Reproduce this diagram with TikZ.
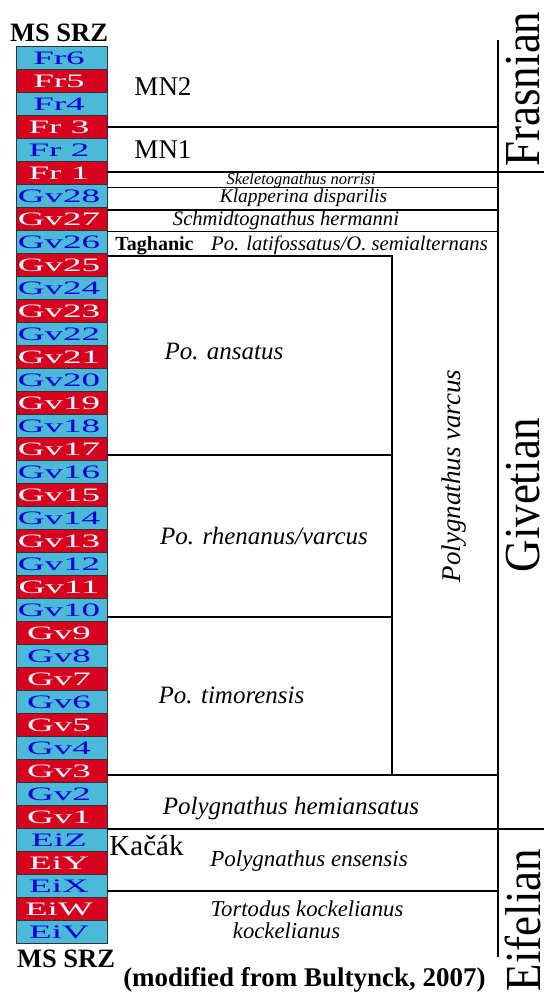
\documentclass[tikz,border=0pt]{standalone}
\usepackage{fontspec}
\setmainfont{Liberation Serif}
\newfontfamily\widefont[FakeStretch=1.95]{Liberation Serif}
\definecolor{cy}{RGB}{75,185,215}
\definecolor{rd}{RGB}{215,0,30}
\definecolor{bl}{RGB}{0,0,220}
\newcommand{\fsz}[1]{\fontsize{#1}{#1}\selectfont}
\begin{document}
\begin{tikzpicture}[x=1pt,y=-1pt,
  box/.style={draw=black!80,line width=0.8pt,minimum width=91pt,minimum height=23pt,inner sep=0pt,font=\fsz{19}},
  rule/.style={line width=1.3pt},
  lab/.style={anchor=base,inner sep=0pt},
  sp/.style={lab,font=\itshape\fsz{#1}},
  stage/.style={anchor=base,inner sep=0pt,rotate=90,font=\fsz{45}}]
\useasboundingbox (0,0) rectangle (544,999);
\fill[white] (0,0) rectangle (544,999);
% zone column
\foreach \lab [count=\i from 0] in {Fr6,Fr5,Fr4,{Fr 3},{Fr 2},{Fr 1},Gv28,Gv27,Gv26,Gv25,Gv24,Gv23,Gv22,Gv21,Gv20,Gv19,Gv18,Gv17,Gv16,Gv15,Gv14,Gv13,Gv12,Gv11,Gv10,Gv9,Gv8,Gv7,Gv6,Gv5,Gv4,Gv3,Gv2,Gv1,EiZ,EiY,EiX,EiW,EiV}{
  \ifodd\i \def\fc{rd}\def\tc{white}\else\def\fc{cy}\def\tc{bl}\fi
  \node[box,fill=\fc,text=\tc] (b\i) at (61.5,{58.2+23*\i}) {\widefont\lab\kern5pt};
}
% titles
\node[lab,font=\bfseries\fsz{26.5}] (t1) at (59,41.7) {MS SRZ};
\node[lab,font=\bfseries\fsz{26.5}] (t2) at (66,967) {MS SRZ};
\node[lab,font=\bfseries\fsz{27}] (src) at (304.5,986) {(modified from Bultynck, 2007)};
% horizontal rules
\draw[rule] (107,127) -- (498,127);
\draw[line width=2pt] (107,172) -- (544,172);
\draw[rule] (107,187.5) -- (498,187.5);
\draw[rule] (107,210) -- (498,210);
\draw[rule] (107,231.5) -- (498,231.5);
\draw[rule] (107,256) -- (392,256) -- (392,775);
\draw[rule] (107,455) -- (392,455);
\draw[rule] (107,617) -- (392,617);
\draw[rule] (107,775) -- (498,775);
\draw[rule] (107,829) -- (544,829);
\draw[rule] (107,891) -- (498,891);
\draw[line width=1.5pt] (498,40) -- (498,957);
% zone labels
\node[lab,font=\fsz{27}] (mn2) at (163,95) {MN2};
\node[lab,font=\fsz{27}] (mn1) at (163,158) {MN1};
\node[sp=16.5] (sk) at (301,184) {Skeletognathus norrisi};
\node[sp=19.5] (kl) at (303.5,202.7) {Klapperina disparilis};
\node[sp=20.6] (sc) at (286,225) {Schmidtognathus hermanni};
\node[lab,font=\bfseries\fsz{20}] (tag) at (154.5,250.7) {Taghanic};
\node[sp=20.7] (lat) at (349.5,250.7) {Po. latifossatus/O. semialternans};
\node[sp=25] (ans) at (224,359.3) {Po. ansatus};
\node[sp=25] (rhe) at (264,544) {Po. rhenanus/varcus};
\node[sp=25] (tim) at (231.5,703.3) {Po. timorensis};
\node[sp=27,rotate=90] (var) at (460,476) {Polygnathus varcus};
\node[sp=25] (hem) at (291,814) {Polygnathus hemiansatus};
\node[lab,font=\fsz{29}] (kac) at (146.5,855) {Kačák};
\node[sp=23] (ens) at (309,866) {Polygnathus ensensis};
\node[sp=22.7] (tor) at (307,916) {Tortodus kockelianus};
\node[sp=22.7] (kock) at (286.5,938.3) {kockelianus};
% stages
\node[stage] (fr) at (539,89) {\scalebox{1}[1.12]{Frasnian}};
\node[stage] (gv) at (539,495) {\scalebox{1}[1.12]{Givetian}};
\node[stage] (ei) at (540,920) {\scalebox{1}[1.12]{Eifelian}};
\end{tikzpicture}
\end{document}
